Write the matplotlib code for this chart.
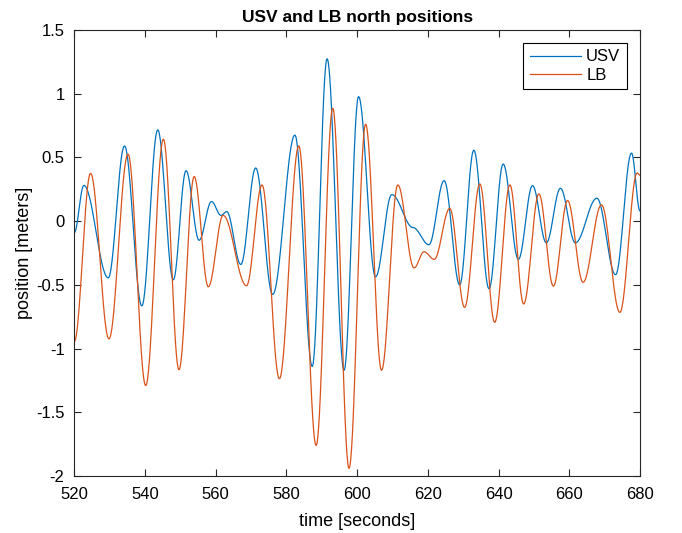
import numpy as np
import matplotlib
matplotlib.use("Agg")
import matplotlib.pyplot as plt
from matplotlib import font_manager

# Key points (time [s], position [m]): extrema of each trace
usv_t = [520.0, 522.7, 529.6, 534.2, 539.1, 543.6, 548.0, 551.6, 555.3, 558.8, 561.5, 563.1,
         567.1, 571.3, 576.1, 582.4, 587.3, 591.5, 596.3, 600.4, 605.2, 609.8, 615.8, 620.3,
         624.6, 629.0, 633.0, 637.3, 641.3, 645.6, 649.6, 653.5, 657.5, 661.7, 667.8, 673.1,
         677.6, 680.0]
usv_v = [-0.09, 0.28, -0.445, 0.59, -0.665, 0.716, -0.46, 0.396, -0.15, 0.154, 0.045, 0.075,
         -0.34, 0.417, -0.575, 0.675, -1.14, 1.274, -1.17, 0.977, -0.437, 0.208, -0.05, -0.185,
         0.318, -0.50, 0.557, -0.53, 0.448, -0.30, 0.279, -0.17, 0.258, -0.17, 0.18, -0.42,
         0.534, 0.08]

lb_t = [520.0, 524.6, 529.8, 535.2, 540.2, 545.2, 549.6, 553.9, 557.9, 562.1, 568.7, 573.1,
        578.0, 583.5, 588.4, 593.1, 597.7, 602.4, 606.9, 611.5, 616.1, 618.9, 621.8, 626.2,
        630.4, 634.7, 638.9, 643.2, 647.1, 651.4, 655.5, 659.5, 663.9, 669.1, 674.3, 679.2,
        680.0]
lb_v = [-0.945, 0.375, -0.924, 0.526, -1.29, 0.643, -1.166, 0.35, -0.515, 0.045, -0.507, 0.284,
        -1.237, 0.59, -1.76, 0.886, -1.94, 0.76, -1.17, 0.284, -0.367, -0.24, -0.30, 0.10,
        -0.677, 0.292, -0.794, 0.284, -0.65, 0.214, -0.51, 0.162, -0.48, 0.128, -0.716, 0.378,
        0.36]

x_ticks = [520, 540, 560, 580, 600, 620, 640, 660, 680]
y_ticks = [-2, -1.5, -1, -0.5, 0, 0.5, 1, 1.5]
y_tick_labels = ["-2", "-1.5", "-1", "-0.5", "0", "0.5", "1", "1.5"]


def smooth_path(tk, vk, n=40):
    """Half-cosine segments between consecutive key points (zero slope at extrema)."""
    xs, ys = [], []
    for i in range(len(tk) - 1):
        s = np.linspace(0, 1, n, endpoint=False)
        w = (1 - np.cos(np.pi * s)) / 2
        xs.append(tk[i] + (tk[i + 1] - tk[i]) * s)
        ys.append(vk[i] + (vk[i + 1] - vk[i]) * w)
    xs.append([tk[-1]])
    ys.append([vk[-1]])
    return np.concatenate(xs), np.concatenate(ys)


names = {f.name for f in font_manager.fontManager.ttflist}
fams = [f for f in ['Liberation Sans Narrow', 'Liberation Sans'] if f in names] + ['DejaVu Sans']
plt.rcParams['font.family'] = fams

fig = plt.figure(figsize=(6.82, 5.33), dpi=100)
ax = fig.add_axes([74.3 / 682, 57 / 533, (640 - 74.3) / 682, (476 - 30) / 533])

ux, uy = smooth_path(usv_t, usv_v)
lx, ly = smooth_path(lb_t, lb_v)
ax.plot(ux, uy, color='#0072BD', lw=0.9, label='USV')
ax.plot(lx, ly, color='#D95319', lw=0.9, label='LB')

ax.set_xlim(520, 680)
ax.set_ylim(-2, 1.5)
ax.set_xticks(x_ticks)
ax.set_yticks(y_ticks)
ax.set_yticklabels(y_tick_labels)

axc = '#262626'
for sp in ax.spines.values():
    sp.set_color(axc)
    sp.set_linewidth(0.8)
ax.tick_params(direction='in', length=5, width=0.8, colors=axc, labelcolor='black',
               labelsize=12, top=True, right=True)
ax.tick_params(axis='x', pad=8)
ax.tick_params(axis='y', pad=7)

ax.set_title('USV and LB north positions', fontsize=12.5, fontweight='bold', pad=6)
ax.set_xlabel('time [seconds]', fontsize=13, labelpad=8)
ax.set_ylabel('position [meters]', fontsize=13, labelpad=2)

leg = ax.legend(loc='upper right', bbox_to_anchor=(627 / 682, (533 - 42.7) / 533),
                bbox_transform=fig.transFigure, fancybox=False, framealpha=1,
                edgecolor='black', fontsize=12, handlelength=3.1, borderaxespad=0,
                borderpad=0.4, labelspacing=0.2, handletextpad=0.3)
leg.get_frame().set_linewidth(0.8)

fig.savefig('out.png', dpi=100)
